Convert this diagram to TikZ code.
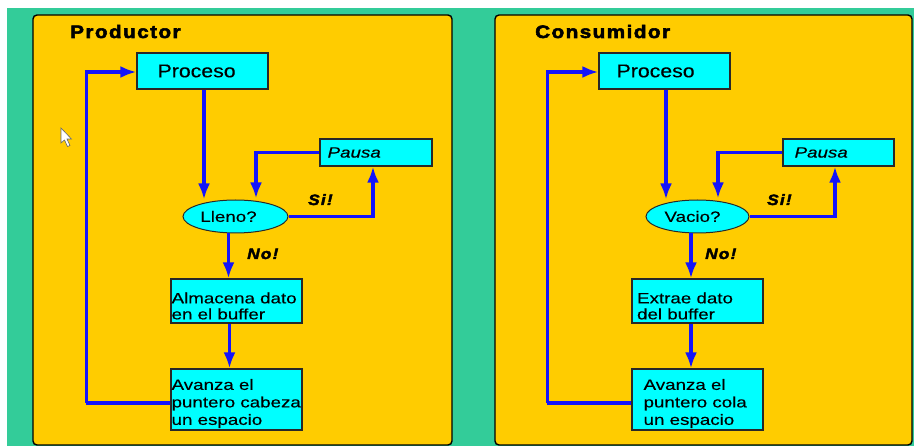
\documentclass[tikz,border=0pt]{standalone}
\usepackage{fontspec}
\usetikzlibrary{arrows.meta,shapes.geometric,calc}
\setmainfont{Liberation Sans}[FakeStretch=1.25,FakeBold=0.25]
\newfontfamily\procfont{Liberation Sans}[FakeStretch=1.15,FakeBold=0.2]
\newfontfamily\headfont{Liberation Sans}[FakeStretch=1.15,LetterSpace=8,FakeBold=3]
\newfontfamily\markfont{Liberation Sans}[FakeStretch=1.15,LetterSpace=8,FakeBold=2.5]

\definecolor{sea}{RGB}{51,204,153}
\definecolor{amber}{RGB}{255,204,0}
\definecolor{aqua}{RGB}{0,255,255}
\definecolor{flowblue}{RGB}{20,20,250}
\definecolor{edge}{RGB}{40,40,40}

\tikzset{
  panel/.style={draw=black, fill=amber, line width=1.4pt, rounded corners=4pt},
  stepbox/.style={draw=edge, fill=aqua, line width=1.2pt, inner sep=0pt},
  decision/.style={ellipse, draw=edge, fill=aqua, line width=1pt, inner sep=0pt,
    minimum height=33pt},
  txt/.style={inner sep=0pt, align=left, font=\fontsize{15}{16}\selectfont},
  tallertxt/.style={txt, font=\fontsize{15}{17.5}\selectfont},
  bigtxt/.style={inner sep=0pt, font=\fontsize{18.5}{20}\procfont},
  title/.style={inner sep=0pt, anchor=base west, font=\fontsize{18}{20}\headfont\bfseries},
  flowlabel/.style={inner sep=0pt, anchor=base west, font=\fontsize{15}{18}\markfont\bfseries\itshape},
  flow/.style={draw=flowblue, line width=3.2pt},
  arr/.style={flow, -{Latex[length=16pt,width=12pt]}},
}

\begin{document}
\begin{tikzpicture}[x=1pt, y=-1pt]
  % background
  \fill[white] (0,0) rectangle (914,446);
  \fill[sea] (7,8) rectangle (914,446);
  \useasboundingbox (0,0) rectangle (914,446);

  % ---------- Productor ----------
  \draw[panel] (33,15) rectangle (452,445);
  \node[title] (tp) at (70,38) {Productor};

  \node[stepbox, minimum width=131pt, minimum height=36pt] (pproc) at (202.5,71) {};
  \node[bigtxt, anchor=west] (pproct) at ([xshift=21pt]pproc.west) {Proceso};

  \node[stepbox, minimum width=112pt, minimum height=27pt] (ppau) at (376,152.5) {};
  \node[txt, anchor=west, font=\fontsize{15}{16}\selectfont\itshape] (ppaut) at ([xshift=8pt]ppau.west) {Pausa};

  \node[decision, minimum width=105pt] (pdec) at (235.5,216.5) {};
  \node[txt] (pdect) at ([xshift=-7pt]pdec.center) {Lleno?};

  \node[stepbox, minimum width=131pt, minimum height=44pt] (palm) at (236.5,301) {};
  \node[txt, anchor=west] (palmt) at ([xshift=1pt,yshift=-5pt]palm.west) {Almacena dato\\en el buffer};

  \node[stepbox, minimum width=131pt, minimum height=61pt] (pava) at (236.5,399.5) {};
  \node[tallertxt, anchor=west] (pavat) at ([xshift=1pt,yshift=-4pt]pava.west) {Avanza el\\puntero cabeza\\un espacio};

  \node[flowlabel] (psi) at (308,205) {Si!};
  \node[flowlabel] (pno) at (247,259) {No!};

  \draw[arr] ([xshift=1.5pt]pproc.south) -- ([xshift=1.5pt]pproc.south |- pdec.north);
  \draw[arr] (ppau.west) -| ([xshift=20.5pt,yshift=1pt]pdec.north);
  \draw[arr] (pdec.east) -| ([xshift=-3pt]ppau.south);
  \draw[arr] ([xshift=-7pt]pdec.south) -- ([xshift=-7pt]pdec.south |- palm.north);
  \draw[arr] ([xshift=-7pt]palm.south) -- ([xshift=-7pt]palm.south |- pava.north);
  \draw[flow] ([yshift=-3.5pt]pava.west) -- ++(-84,0) coordinate (pcorner);
  \draw[arr] (pcorner) |- ([yshift=-1pt]pproc.west);

  % pointer
  \filldraw[fill=white, draw=black!60, line width=0.6pt]
    (61,128) -- (61,143) -- (64.5,140) -- (67.5,146.5) -- (70,145.5) -- (67,139) -- (71.5,139) -- cycle;

  % ---------- Consumidor ----------
  \draw[panel] (495,15) rectangle (912,445);
  \node[title] (tc) at (535,38) {Consumidor};

  \node[stepbox, minimum width=131pt, minimum height=36pt] (cproc) at (664.5,71) {};
  \node[bigtxt, anchor=west] (cproct) at ([xshift=18pt]cproc.west) {Proceso};

  \node[stepbox, minimum width=111pt, minimum height=27pt] (cpau) at (838.5,152.5) {};
  \node[txt, anchor=west, font=\fontsize{15}{16}\selectfont\itshape] (cpaut) at ([xshift=12pt]cpau.west) {Pausa};

  \node[decision, minimum width=103pt] (cdec) at (697.5,216.5) {};
  \node[txt] (cdect) at ([xshift=-5pt]cdec.center) {Vacio?};

  \node[stepbox, minimum width=131pt, minimum height=44pt] (cext) at (697.5,301) {};
  \node[txt, anchor=west] (cextt) at ([xshift=5.5pt,yshift=-5pt]cext.west) {Extrae dato\\del buffer};

  \node[stepbox, minimum width=131pt, minimum height=61pt] (cava) at (697.5,399.5) {};
  \node[tallertxt, anchor=west] (cavat) at ([xshift=12pt,yshift=-4pt]cava.west) {Avanza el\\puntero cola\\un espacio};

  \node[flowlabel] (csi) at (767,205) {Si!};
  \node[flowlabel] (cno) at (705,259) {No!};

  \draw[arr] ([xshift=1.5pt]cproc.south) -- ([xshift=1.5pt]cproc.south |- cdec.north);
  \draw[arr] (cpau.west) -| ([xshift=20.5pt,yshift=1pt]cdec.north);
  \draw[arr] (cdec.east) -| ([xshift=-3.5pt]cpau.south);
  \draw[arr] ([xshift=-6.5pt]cdec.south) -- ([xshift=-6.5pt]cdec.south |- cext.north);
  \draw[arr] ([xshift=-6.5pt]cext.south) -- ([xshift=-6.5pt]cext.south |- cava.north);
  \draw[flow] ([yshift=-3.5pt]cava.west) -- ++(-84,0) coordinate (ccorner);
  \draw[arr] (ccorner) |- ([yshift=-1pt]cproc.west);
\end{tikzpicture}
\end{document}
